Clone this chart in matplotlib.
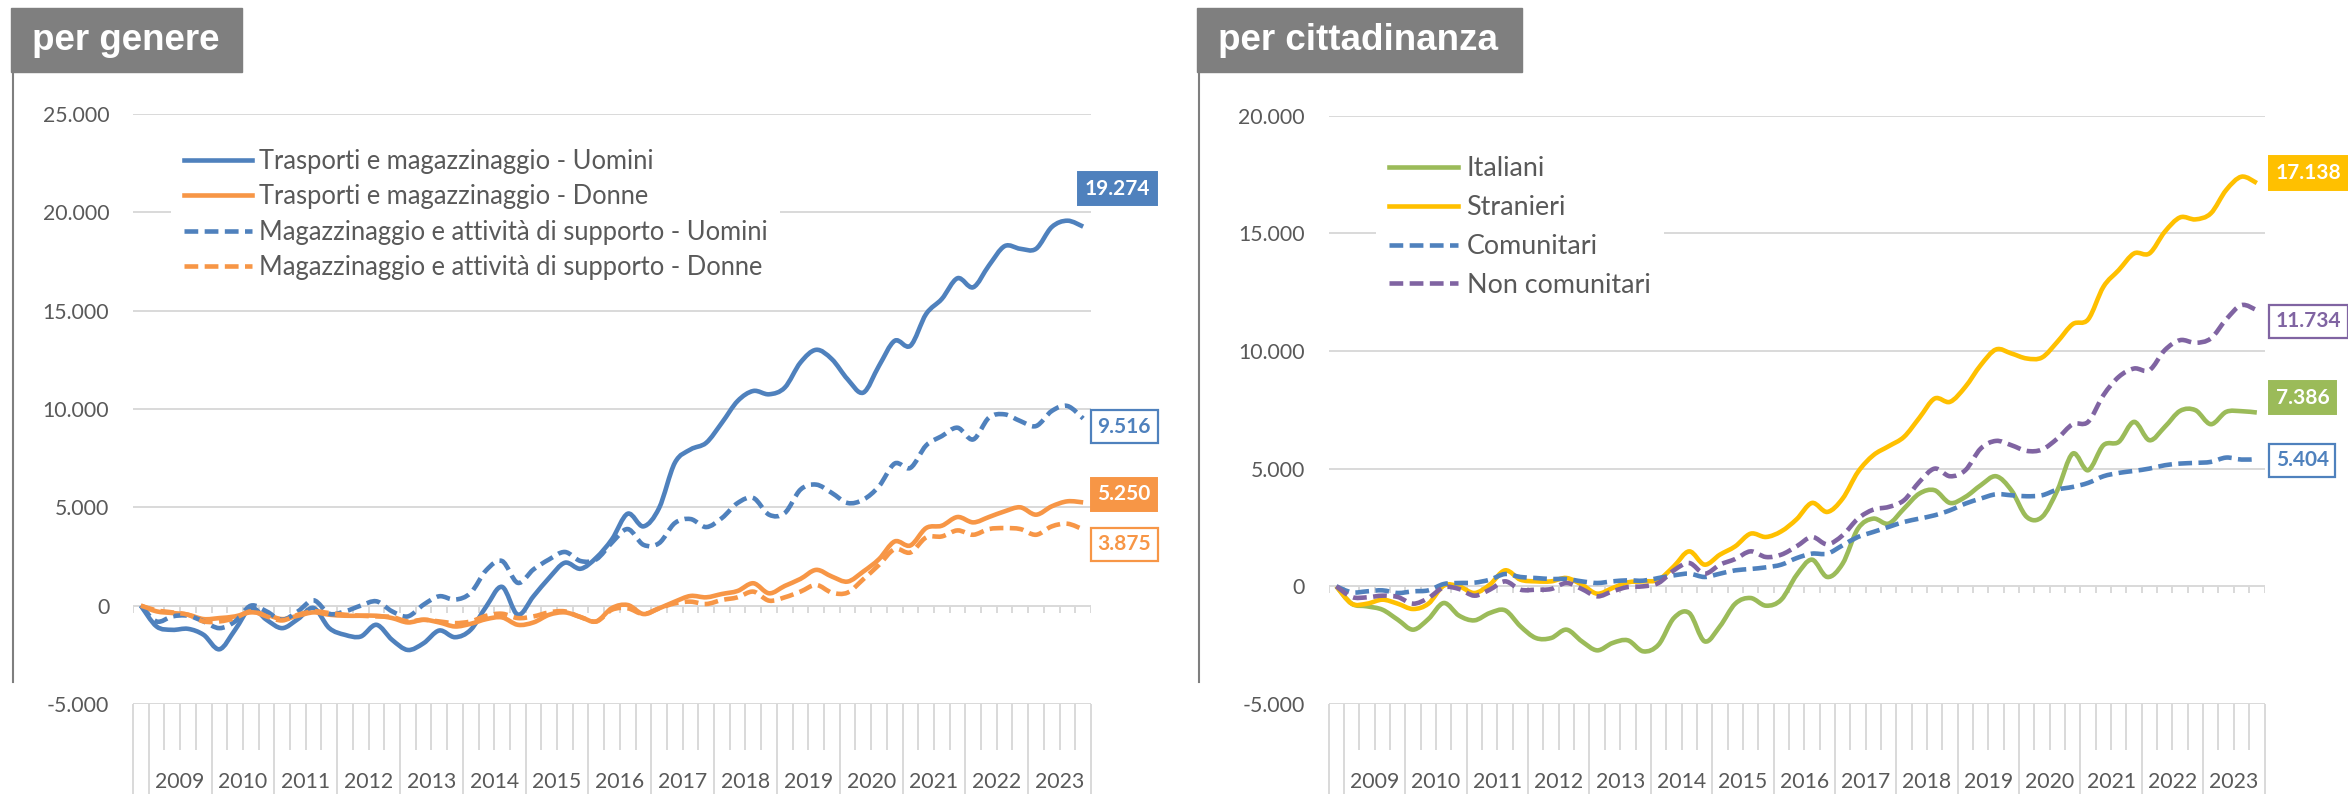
import matplotlib
matplotlib.use("Agg")
import matplotlib.pyplot as plt
from matplotlib.path import Path
from matplotlib.patches import PathPatch, Rectangle
from matplotlib.lines import Line2D
from matplotlib.ticker import FuncFormatter, MultipleLocator

plt.rcParams['font.family'] = ['Lato', 'DejaVu Sans']

# anni (etichette asse categorie, 4 trimestri ciascuno + punto iniziale)
anni = ["2009", "2010", "2011", "2012", "2013", "2014", "2015", "2016",
        "2017", "2018", "2019", "2020", "2021", "2022", "2023"]

# per genere
trasp_uomini = [0, -1058, -1229, -1177, -1485, -2218, -1229, -119, -717, -1143, -683,
                -119, -1143, -1485, -1570, -973, -1741, -2253, -1911, -1263, -1604,
                -1229, -34, 956, -461, 478, 1416, 2184, 1877, 2440, 3379,
                4677, 4031, 4966, 7262, 7942, 8282, 9303, 10408, 10918, 10748,
                11088, 12364, 13010, 12534, 11514, 10833, 12194, 13469, 13214, 14830,
                15595, 16650, 16190, 17296, 18282, 18146, 18146, 19252, 19575, 19274]
trasp_donne = [0, -290, -375, -461, -683, -631, -546, -341, -461, -683, -512,
               -341, -461, -512, -512, -512, -631, -853, -717, -853, -1058,
               -922, -683, -597, -973, -853, -461, -341, -580, -802, -119,
               34, -425, -136, 204, 493, 425, 595, 748, 1139, 629,
               1003, 1361, 1820, 1480, 1224, 1735, 2364, 3265, 3061, 3946,
               4065, 4507, 4235, 4507, 4796, 5000, 4626, 5051, 5306, 5250]
magaz_uomini = [0, -802, -546, -512, -802, -1143, -802, 0, -290, -717, -290,
                273, -410, -290, 0, 222, -290, -546, 51, 478, 307,
                648, 1809, 2270, 1160, 1843, 2355, 2730, 2270, 2355, 3208,
                3895, 3095, 3180, 4200, 4405, 3997, 4456, 5221, 5476, 4626,
                4711, 5901, 6156, 5731, 5221, 5391, 6071, 7228, 7007, 8146,
                8622, 9048, 8452, 9558, 9728, 9388, 9133, 9898, 10153, 9516]
magaz_donne = [0, -239, -341, -461, -802, -802, -631, -290, -546, -751, -461,
               -290, -375, -461, -512, -546, -580, -802, -717, -802, -887,
               -802, -512, -410, -631, -546, -341, -290, -580, -802, -205,
               -136, -425, -136, 119, 204, 85, 289, 425, 714, 255,
               425, 714, 1054, 663, 663, 1344, 2075, 2874, 2704, 3469,
               3520, 3827, 3605, 3895, 3946, 3895, 3605, 4031, 4167, 3875]

# per cittadinanza
italiani = [0, -737, -850, -992, -1416, -1841, -1388, -708, -1246, -1445, -1133,
            -1020, -1700, -2195, -2195, -1841, -2337, -2720, -2408, -2295, -2762,
            -2479, -1346, -1133, -2337, -1700, -737, -496, -822, -567, 480,
            1134, 397, 964, 2453, 2878, 2665, 3303, 3941, 4083, 3544,
            3799, 4295, 4678, 4083, 2949, 2949, 4083, 5642, 4933, 5997,
            6138, 6989, 6209, 6776, 7457, 7485, 6890, 7414, 7443, 7386]
stranieri = [0, -737, -737, -567, -737, -963, -737, 28, 0, -283, 71,
             680, 283, 212, 212, 354, 71, -312, -71, 170, 212,
             283, 850, 1487, 921, 1346, 1700, 2238, 2097, 2337, 2850,
             3544, 3162, 3729, 4862, 5571, 5954, 6351, 7159, 7981, 7840,
             8478, 9399, 10066, 9896, 9683, 9726, 10392, 11143, 11341, 12730,
             13439, 14148, 14148, 15069, 15679, 15594, 15849, 16841, 17408, 17138]
comunitari = [0, -255, -212, -170, -283, -212, -170, 99, 142, 156, 283,
              524, 397, 354, 312, 312, 212, 142, 212, 255, 241,
              354, 467, 538, 397, 538, 680, 737, 807, 921, 1200,
              1389, 1389, 1744, 2098, 2311, 2524, 2736, 2878, 3020, 3232,
              3516, 3729, 3913, 3870, 3828, 3870, 4111, 4225, 4395, 4678,
              4820, 4905, 5004, 5146, 5217, 5246, 5288, 5472, 5387, 5404]
non_comunitari = [0, -453, -467, -397, -453, -737, -496, -42, -113, -397, -142,
                  212, -142, -142, -113, 142, -113, -425, -212, -28, 0,
                  142, 680, 992, 538, 921, 1161, 1487, 1246, 1346, 1700,
                  2098, 1786, 2169, 2878, 3261, 3374, 3657, 4437, 5004, 4678,
                  4933, 5855, 6181, 5997, 5756, 5813, 6281, 6890, 6989, 8123,
                  8903, 9257, 9186, 10037, 10462, 10349, 10533, 11341, 11951, 11734]

BLU = "#4F81BD"
ARANCIO = "#F79646"
VERDE = "#9BBB59"
GIALLO = "#FFC000"
VIOLA = "#8064A2"
GRIGIO = "#D9D9D9"
TESTO = "#595959"

W, H = 2348, 794
fig = plt.figure(figsize=(W / 100, H / 100), dpi=100)


def curva(valori):
    # linea smussata tipo Excel (bezier con tangenti /6)
    xs = [i + 0.5 for i in range(len(valori))]
    ys = valori
    n = len(xs)
    verts = [(xs[0], ys[0])]
    codes = [Path.MOVETO]
    for i in range(n - 1):
        a = max(i - 1, 0)
        b = min(i + 2, n - 1)
        verts.append((xs[i] + (xs[i + 1] - xs[a]) / 6, ys[i] + (ys[i + 1] - ys[a]) / 6))
        verts.append((xs[i + 1] - (xs[b] - xs[i]) / 6, ys[i + 1] - (ys[b] - ys[i]) / 6))
        verts.append((xs[i + 1], ys[i + 1]))
        codes += [Path.CURVE4] * 3
    return Path(verts, codes)


def pannello(rect, ymin, ymax, serie, etichette, legenda):
    ax = fig.add_axes(rect)
    ax.set_xlim(0, len(serie[0][0]))
    ax.set_ylim(ymin, ymax)
    for s in ax.spines.values():
        s.set_visible(False)
    ax.yaxis.set_major_locator(MultipleLocator(5000))
    ax.yaxis.set_major_formatter(FuncFormatter(lambda v, p: f"{int(v):,}".replace(",", ".")))
    ax.tick_params(axis="y", length=0, pad=17, labelsize=15.3, labelcolor=TESTO)
    ax.grid(axis="y", color=GRIGIO, lw=1.4, zorder=0)
    ax.set_axisbelow(True)

    # asse categorie in basso (anni / trimestri)
    n = len(serie[0][0])
    ax.set_xticks(range(n + 1), minor=True)
    ax.set_xticks([0, 1] + [1 + 4 * (k + 1) for k in range(len(anni))])
    ax.tick_params(axis="x", which="minor", length=33, width=1.4, color=GRIGIO)
    ax.tick_params(axis="x", which="major", length=66, width=1.4, color=GRIGIO,
                   labelbottom=False)
    tr = ax.get_xaxis_transform()
    for k, anno in enumerate(anni):
        ax.annotate(anno, (3 + 4 * k, 0), xycoords=tr, xytext=(0, -78),
                    textcoords="offset pixels", ha="center", va="center",
                    fontsize=15.3, color=TESTO, annotation_clip=False)
    # tacche sull'asse dello zero
    y0 = (0 - ymin) / (ymax - ymin)
    ax.vlines(range(n + 1), y0 - 7 / (rect[3] * H), y0, transform=tr,
              colors=GRIGIO, lw=1.4, zorder=1)

    handles = []
    for valori, colore, tratto, nome in serie:
        ls = "-" if tratto else (0, (3.0, 1.4))
        ax.add_patch(PathPatch(curva(valori), fill=False, edgecolor=colore, lw=3.3,
                               linestyle=ls, capstyle="butt", joinstyle="round", zorder=3))
        handles.append(Line2D([], [], color=colore, lw=3.3, linestyle=ls, label=nome))

    for (valori, colore, tratto, nome), (dx, dy, ha) in zip(serie, etichette):
        testo = f"{valori[-1]:,}".replace(",", ".")
        if tratto:
            box = dict(boxstyle="square,pad=0.32", fc=colore, ec=colore, lw=1.4)
            col = "white"
        else:
            box = dict(boxstyle="square,pad=0.32", fc="white", ec=colore, lw=1.6)
            col = colore
        ax.annotate(testo, (n - 0.5, valori[-1]), xytext=(dx, dy),
                    textcoords="offset pixels", ha=ha, va="center", fontsize=15,
                    fontweight="bold", color=col, bbox=box, annotation_clip=False,
                    zorder=5)

    fs, anchor, spacing, hlen, hpad = legenda
    leg = ax.legend(handles=handles, loc="upper left", bbox_to_anchor=anchor,
                    bbox_transform=fig.transFigure, fontsize=fs, frameon=True,
                    facecolor="white", edgecolor="none", framealpha=1, fancybox=False,
                    handlelength=hlen, handletextpad=hpad, labelspacing=spacing,
                    borderpad=0.5, borderaxespad=0)
    for t in leg.get_texts():
        t.set_color(TESTO)
    return ax


serie_genere = [
    (trasp_uomini, BLU, True, "Trasporti e magazzinaggio - Uomini"),
    (trasp_donne, ARANCIO, True, "Trasporti e magazzinaggio - Donne"),
    (magaz_uomini, BLU, False, "Magazzinaggio e attività di supporto - Uomini"),
    (magaz_donne, ARANCIO, False, "Magazzinaggio e attività di supporto - Donne"),
]
etich_genere = [(34, 38, "center"), (41, 8, "center"), (41, -8, "center"), (41, -15, "center")]

serie_citt = [
    (italiani, VERDE, True, "Italiani"),
    (stranieri, GIALLO, True, "Stranieri"),
    (comunitari, BLU, False, "Comunitari"),
    (non_comunitari, VIOLA, False, "Non comunitari"),
]
etich_citt = [(19, 15, "left"), (19, 10, "left"), (19, -1, "left"), (19, -11, "left")]

pannello([133 / W, 1 - 704 / H, 958 / W, 590 / H], -5000, 25000, serie_genere,
         etich_genere, (18.4, (171 / W, 1 - 136 / H), 0.41, 2.66, 0.27))
pannello([1328.7 / W, 1 - 704 / H, 935.8 / W, 588.3 / H], -5000, 20000, serie_citt,
         etich_citt, (19.4, (1376 / W, 1 - 143 / H), 0.51, 2.56, 0.3))

# cornici e titoli dei pannelli
for x0, x1, titolo in [(11, 242, "per genere"), (1197, 1522, "per cittadinanza")]:
    fig.add_artist(Line2D([(x0 + 1.5) / W] * 2, [1 - 23 / H, 1 - 682 / H],
                          transform=fig.transFigure, color="#7F7F7F", lw=1.5))
    fig.add_artist(Rectangle((x0 / W, 1 - 72 / H), (x1 - x0) / W, 64 / H,
                             transform=fig.transFigure, color="#7F7F7F"))
    fig.text((x0 + 21) / W, 1 - 41 / H, titolo, color="white", fontsize=26.5,
             fontweight="bold", family="Liberation Sans", va="center", ha="left")

fig.savefig("out.png", dpi=100)
